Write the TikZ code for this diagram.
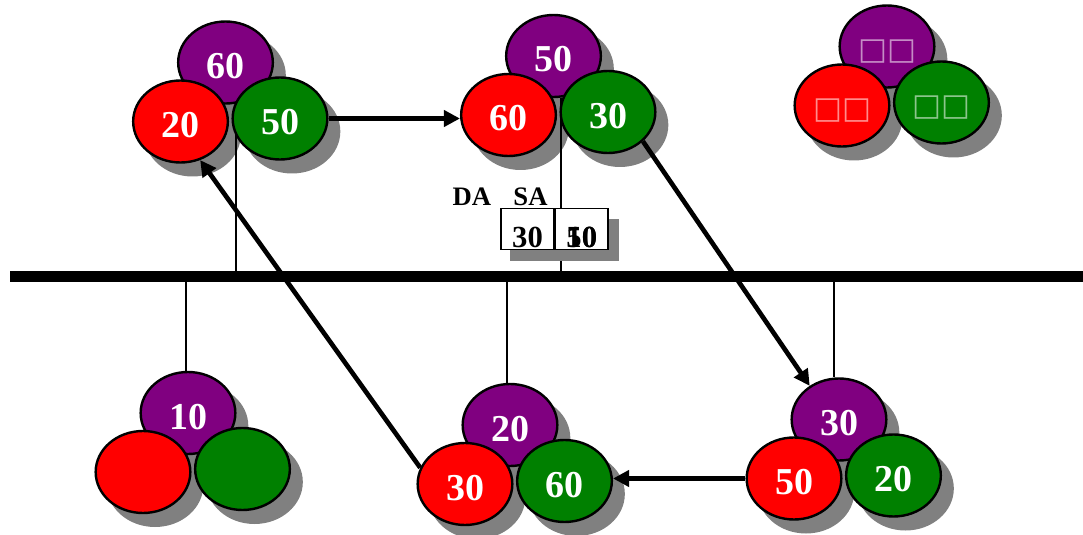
\documentclass[tikz,border=0pt]{standalone}
\usepackage{fontspec}
\setmainfont{Liberation Serif}
\newfontfamily\glyphfont{DejaVu Sans}
\usepackage{tikz}
\usetikzlibrary{positioning,shapes.geometric,arrows.meta}
\definecolor{hostpurple}{HTML}{800080}
\definecolor{hostred}{HTML}{FF0000}
\definecolor{hostgreen}{HTML}{008000}
\definecolor{hostshade}{HTML}{808080}
\pgfdeclarelayer{shade}
\pgfdeclarelayer{wire}
\pgfsetlayers{shade,wire,main}

\begin{document}
\begin{tikzpicture}[
      x=0.75pt, y=-0.75pt,
      host/.style={ellipse, draw=black, line width=1.8pt, minimum width=71pt,
                   minimum height=61.5pt, inner sep=0pt, text=white,
                   text height=24pt, text depth=0pt,
                   font=\fontsize{28.5}{30}\selectfont\bfseries},
      hp/.style={host, fill=hostpurple},
      hr/.style={host, fill=hostred},
      hg/.style={host, fill=hostgreen},
      shadowblob/.style={ellipse, fill=hostshade, minimum width=72.5pt,
                         minimum height=63pt, inner sep=0pt},
      tofu/.style={font=\glyphfont\fontsize{23}{25}\selectfont, text opacity=0.55,
                   text height=20pt},
      cell/.style={draw=black, fill=white, line width=1.2pt, minimum width=39.5pt,
                   minimum height=31pt, inner sep=0pt, text height=27pt,
                   text depth=0pt, font=\fontsize{23}{25}\selectfont\bfseries},
      fld/.style={font=\fontsize{20}{22}\selectfont\bfseries, inner sep=0pt},
      drop/.style={line width=1.5pt},
      mv/.style={-{Triangle[length=12pt,width=12pt]}, line width=3.5pt},
    ]
    \useasboundingbox (0,0) rectangle (1083,535);

    % ---------- bus ----------
    \coordinate (busL) at (10,276.5);
    \coordinate (busR) at (1083,276.5);
    \draw[line width=8pt] (busL) -- (busR);

    % ---------- upper hosts ----------
    \node[hp] (pA) at (225.5,62.5) {60};
    \node[hr] (rA) at ([shift={(-45,59)}]pA.center) {20};
    \node[hg] (gA) at ([shift={(54.5,56)}]pA.center) {50};

    \node[hp] (pB) at (553.5,56) {50};
    \node[hr] (rB) at ([shift={(-45,59)}]pB.center) {60};
    \node[hg] (gB) at ([shift={(54.5,56)}]pB.center) {30};

    \node[hp, tofu] (pC) at (887,46.5) {□□};
    \node[hr, tofu] (rC) at ([shift={(-45,59)}]pC.center) {□□};
    \node[hg, tofu] (gC) at ([shift={(54.5,56)}]pC.center) {□□};

    % ---------- lower hosts ----------
    \node[hp] (pD) at (188,413) {10};
    \node[hr] (rD) at ([shift={(-45,59)}]pD.center) {};
    \node[hg] (gD) at ([shift={(54.5,56)}]pD.center) {};

    \node[hp] (pE) at (510,425) {20};
    \node[hr] (rE) at ([shift={(-45,59)}]pE.center) {30};
    \node[hg] (gE) at ([shift={(54.5,56)}]pE.center) {60};

    \node[hp] (pF) at (839,419.5) {30};
    \node[hr] (rF) at ([shift={(-45,59)}]pF.center) {50};
    \node[hg] (gF) at ([shift={(54.5,56)}]pF.center) {20};

    \begin{pgfonlayer}{shade}
      \foreach \h in {pA,rA,gA,pB,rB,gB,pC,rC,gC,pD,rD,gD,pE,rE,gE,pF,rF,gF}
        \node[shadowblob] (s\h) at ([shift={(12,13)}]\h.center) {};
    \end{pgfonlayer}

    % ---------- frame ----------
    \node[cell] (da) at (527.5,229) {30};
    \node[cell, right=0pt of da] (sa) {\ooalign{50\cr\hidewidth10\hidewidth}};
    \node[fld] (daL) at (472,196.5) {DA};
    \node[fld] (saL) at (530.5,196.5) {SA};

    % ---------- taps ----------
    \coordinate (tA) at ([xshift=8pt]pA.south);
    \coordinate (tB) at ([xshift=5.6pt]pB.south);
    \coordinate (tD) at ([xshift=-1.5pt]pD.north);
    \coordinate (tE) at ([xshift=-2.2pt]pE.north);
    \coordinate (tF) at ([xshift=-3.7pt]pF.north);
    \begin{pgfonlayer}{wire}
      \draw[drop] (tA) -- (tA |- busL);
      \draw[drop] (tB) -- (tB |- busL);
      \draw[drop] (tD |- busL) -- (tD);
      \draw[drop] (tE |- busL) -- (tE);
      \draw[drop] (tF |- busL) -- (tF);
      \fill[hostshade] ([shift={(10,11)}]da.north west)
        rectangle ([shift={(10,11)}]sa.south east);
    \end{pgfonlayer}

    % ---------- frame path ----------
    \draw[mv] (gA.east) -- (gA.east -| rB.west);
    \draw[mv] (gB.-40) -- (pF.131);
    \draw[mv] (rF.west) -- (rF.west -| gE.east);
    \draw[mv] (rE.160) -- (rA.-63);

  \end{tikzpicture}
\end{document}
